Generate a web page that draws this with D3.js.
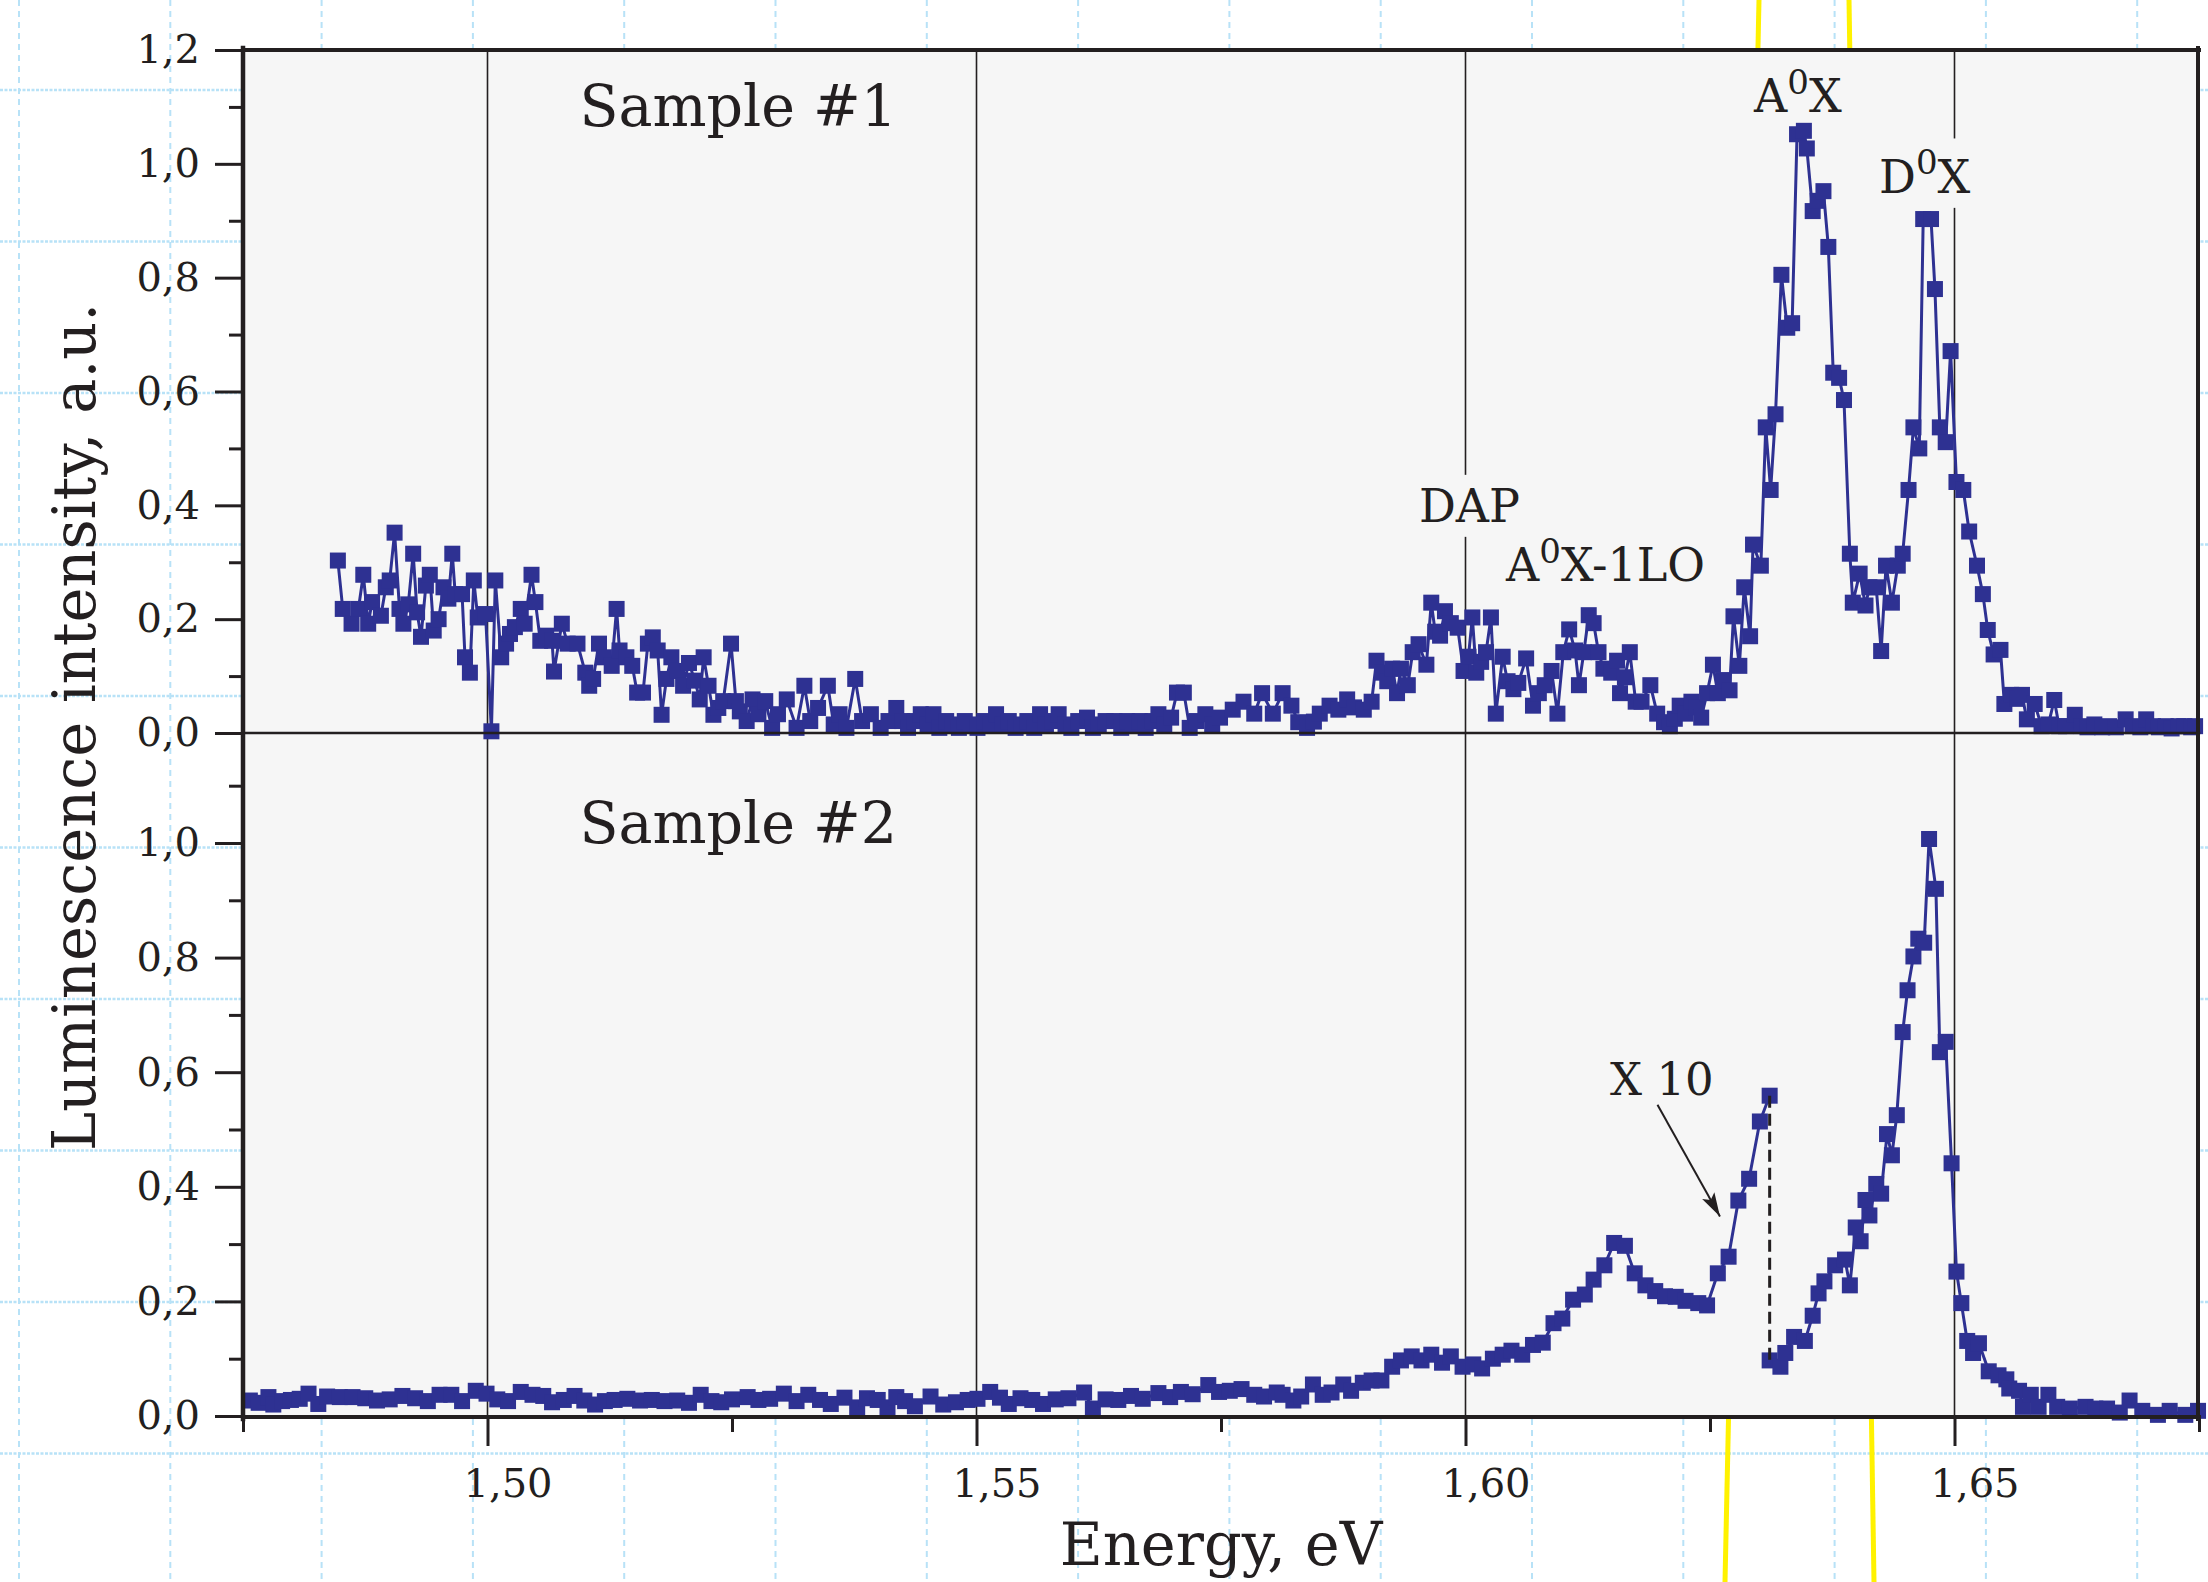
<!DOCTYPE html>
<html>
<head>
<meta charset="utf-8">
<script src="https://cdn.jsdelivr.net/npm/d3@7"></script>
<style>
  html, body { margin: 0; padding: 0; background: #fff; }
  svg { display: block; }
</style>
</head>
<body>
<div id="chart"></div>
<script>
// values: [energy (eV), intensity (a.u.)]
// sample #1
const s1Tail = [
  [1.4847,0.303],[1.4852,0.218],[1.4861,0.192],[1.4868,0.218],[1.4873,0.278],[1.4878,0.192],[1.4882,0.230],
  [1.4891,0.206],[1.4896,0.256],[1.4900,0.268],[1.4905,0.352],[1.4910,0.218],[1.4914,0.192],[1.4919,0.226],
  [1.4924,0.315],[1.4928,0.212],[1.4932,0.169],[1.4937,0.259],[1.4941,0.278],[1.4945,0.180],[1.4950,0.200],
  [1.4955,0.256],[1.4960,0.236],[1.4964,0.315],[1.4967,0.244],[1.4974,0.244],[1.4977,0.133],[1.4982,0.106],
  [1.4986,0.268],[1.4990,0.203],[1.4998,0.209],[1.5004,0.003],[1.5008,0.268],[1.5014,0.133],[1.5019,0.157],
  [1.5023,0.174],[1.5028,0.186],[1.5034,0.218],[1.5038,0.192],[1.5045,0.278],[1.5049,0.230],[1.5054,0.162],
  [1.5060,0.171],[1.5066,0.162],[1.5068,0.108],[1.5076,0.192],[1.5082,0.157],[1.5092,0.157],[1.5100,0.106],
  [1.5104,0.083],[1.5108,0.095],[1.5114,0.157],[1.5119,0.133],[1.5127,0.118],[1.5132,0.218],[1.5135,0.145],
  [1.5142,0.133],[1.5148,0.118],[1.5153,0.071],[1.5159,0.071],[1.5164,0.157],[1.5169,0.168],[1.5174,0.145],
  [1.5178,0.032],[1.5183,0.095],[1.5188,0.133],[1.5194,0.109],[1.5200,0.083],[1.5206,0.123],[1.5212,0.092],
  [1.5217,0.059],[1.5221,0.133],[1.5226,0.083],[1.5231,0.032],[1.5236,0.044],[1.5241,0.056],[1.5249,0.157],
  [1.5254,0.056],[1.5258,0.038],[1.5265,0.021],[1.5271,0.059],[1.5277,0.033],[1.5284,0.056],[1.5291,0.009],
  [1.5297,0.033],[1.5306,0.059],[1.5316,0.009],[1.5324,0.083],[1.5330,0.021],[1.5338,0.044],[1.5348,0.083],
  [1.5354,0.015],[1.5360,0.033],[1.5367,0.009],[1.5376,0.095],[1.5383,0.021],[1.5392,0.033],[1.5402,0.009]
];
const s1Flat = [
  [1.5410,0.021],[1.5418,0.044],[1.5424,0.021],[1.5430,0.009],[1.5437,0.021],[1.5443,0.033],[1.5450,0.015],
  [1.5456,0.033],[1.5462,0.009],[1.5469,0.021],[1.5475,0.015],[1.5482,0.009],[1.5488,0.021],[1.5494,0.015],
  [1.5501,0.009],[1.5508,0.021],[1.5514,0.015],[1.5520,0.033],[1.5527,0.015],[1.5533,0.021],[1.5540,0.009],
  [1.5546,0.015],[1.5552,0.021],[1.5559,0.009],[1.5565,0.033],[1.5571,0.015],[1.5578,0.021],[1.5584,0.033],
  [1.5591,0.015],[1.5597,0.009],[1.5604,0.021],[1.5613,0.027],[1.5619,0.009],[1.5625,0.015],[1.5632,0.021],
  [1.5641,0.021],[1.5648,0.009],[1.5654,0.021],[1.5660,0.015],[1.5667,0.021],[1.5673,0.009],[1.5680,0.021],
  [1.5686,0.033],[1.5692,0.015],[1.5699,0.027],[1.5705,0.071],[1.5712,0.071],[1.5718,0.009],[1.5725,0.021],
  [1.5734,0.033],[1.5741,0.015],[1.5749,0.027]
];
const s1Dap = [
  [1.5762,0.041],[1.5773,0.055],[1.5784,0.034],[1.5792,0.070],[1.5803,0.034],[1.5813,0.070],[1.5822,0.048],
  [1.5829,0.019],[1.5838,0.009],[1.5845,0.020],[1.5851,0.034],[1.5861,0.048],[1.5870,0.041],[1.5879,0.059],
  [1.5886,0.045],[1.5896,0.041],[1.5904,0.055],[1.5909,0.127],[1.5915,0.106],[1.5920,0.091],[1.5925,0.113],
  [1.5930,0.070],[1.5934,0.113],[1.5941,0.084],[1.5946,0.142],[1.5952,0.156],[1.5960,0.120],[1.5965,0.229],
  [1.5969,0.178],[1.5974,0.171],[1.5979,0.214],[1.5985,0.193],[1.5992,0.185],[1.5998,0.109],[1.6003,0.134],
  [1.6007,0.203],[1.6011,0.106],[1.6016,0.125],[1.6021,0.142],[1.6026,0.203],[1.6031,0.034],[1.6038,0.134],
  [1.6043,0.091],[1.6049,0.077],[1.6054,0.088],[1.6062,0.131],[1.6069,0.048],[1.6075,0.070],[1.6081,0.084],
  [1.6088,0.109],[1.6094,0.034],[1.6100,0.142],[1.6106,0.182],[1.6112,0.145],[1.6116,0.084],[1.6121,0.142],
  [1.6126,0.207],[1.6131,0.193],[1.6136,0.142],[1.6141,0.113],[1.6149,0.106],[1.6155,0.127],[1.6158,0.070],
  [1.6163,0.098],[1.6168,0.142],[1.6174,0.055],[1.6180,0.055],[1.6189,0.084],[1.6196,0.034],[1.6203,0.019],
  [1.6209,0.012],[1.6214,0.025],[1.6219,0.048],[1.6225,0.034],[1.6231,0.055],[1.6236,0.045],[1.6241,0.027],
  [1.6247,0.070]
];
const s1Excitons = [
  [1.6253,0.120],[1.6258,0.070],[1.6264,0.093],[1.6270,0.075],[1.6274,0.205],[1.6280,0.118],[1.6285,0.256],
  [1.6291,0.170],[1.6294,0.331],[1.6302,0.294],[1.6307,0.537],[1.6312,0.427],[1.6317,0.560],[1.6323,0.805],
  [1.6329,0.712],[1.6334,0.720],[1.6339,1.052],[1.6346,1.058],[1.6349,1.027],[1.6355,0.917],[1.6360,0.935],
  [1.6366,0.952],[1.6371,0.854],[1.6376,0.633],[1.6382,0.624],[1.6387,0.585],[1.6393,0.315],[1.6396,0.229],
  [1.6403,0.280],[1.6409,0.224],[1.6413,0.256],[1.6420,0.256],[1.6425,0.144],[1.6430,0.294],[1.6436,0.229],
  [1.6442,0.294],[1.6447,0.315],[1.6453,0.427],[1.6458,0.537],[1.6464,0.500],[1.6468,0.903],[1.6476,0.903],
  [1.6480,0.780],[1.6485,0.537],[1.6491,0.511],[1.6496,0.671],[1.6502,0.441],[1.6509,0.427],[1.6515,0.354],
  [1.6523,0.294],[1.6529,0.244],[1.6534,0.181],[1.6540,0.138],[1.6547,0.146],[1.6551,0.051],[1.6558,0.067],
  [1.6564,0.060],[1.6569,0.067],[1.6574,0.024],[1.6582,0.051],[1.6589,0.012],[1.6596,0.015],[1.6602,0.058],
  [1.6607,0.012],[1.6614,0.012],[1.6623,0.032],[1.6630,0.012],[1.6636,0.010],[1.6643,0.015],[1.6651,0.010],
  [1.6658,0.012],[1.6665,0.010],[1.6675,0.024],[1.6682,0.012],[1.6690,0.010],[1.6696,0.024],[1.6703,0.012],
  [1.6709,0.010],[1.6716,0.012],[1.6722,0.008],[1.6729,0.012],[1.6735,0.012],[1.6742,0.010],[1.6746,0.012]
];

// sample #2 (the part up to the dashed line is shown x10)
const s2Base = [
  [1.4757,0.027],[1.4766,0.023],[1.4776,0.033],[1.4781,0.020],[1.4790,0.026],[1.4799,0.028],[1.4808,0.030],
  [1.4817,0.039],[1.4827,0.021],[1.4836,0.034],[1.4849,0.033],[1.4862,0.033],[1.4875,0.031],[1.4887,0.027],
  [1.4900,0.029],[1.4913,0.035],[1.4926,0.031],[1.4939,0.026],[1.4951,0.037],[1.4963,0.037],[1.4974,0.026],
  [1.4988,0.044],[1.4999,0.039],[1.5010,0.029],[1.5021,0.026],[1.5034,0.042],[1.5046,0.037],[1.5057,0.035],
  [1.5066,0.024],[1.5078,0.028],[1.5089,0.035],[1.5099,0.027],[1.5110,0.020],[1.5120,0.026],[1.5130,0.028],
  [1.5143,0.030],[1.5156,0.027],[1.5168,0.028],[1.5181,0.026],[1.5194,0.027],[1.5206,0.023],[1.5218,0.037],
  [1.5229,0.026],[1.5239,0.024],[1.5250,0.029],[1.5266,0.033],[1.5277,0.028],[1.5289,0.030],[1.5303,0.039],
  [1.5316,0.026],[1.5328,0.037],[1.5340,0.028],[1.5351,0.021],[1.5365,0.032],[1.5378,0.015],[1.5388,0.031],
  [1.5399,0.028],[1.5409,0.015],[1.5418,0.033],[1.5427,0.026],[1.5437,0.017],[1.5453,0.034],[1.5466,0.020],
  [1.5479,0.024],[1.5491,0.028],[1.5501,0.030],[1.5514,0.042],[1.5524,0.032],[1.5533,0.021],[1.5545,0.031],
  [1.5557,0.028],[1.5568,0.021],[1.5581,0.029],[1.5594,0.031],[1.5610,0.041],[1.5619,0.013],[1.5632,0.029],
  [1.5645,0.028],[1.5658,0.035],[1.5670,0.030],[1.5686,0.040],[1.5698,0.033],[1.5709,0.042],[1.5721,0.038],
  [1.5737,0.054],[1.5748,0.042]
];
const s2Dap = [
  [1.5759,0.044],[1.5771,0.047],[1.5784,0.037],[1.5794,0.034],[1.5807,0.041],[1.5813,0.037],[1.5824,0.027],
  [1.5832,0.034],[1.5844,0.055],[1.5854,0.037],[1.5863,0.041],[1.5875,0.055],[1.5883,0.044],[1.5895,0.058],
  [1.5904,0.062],[1.5914,0.062],[1.5925,0.086],[1.5934,0.097],[1.5945,0.104],[1.5955,0.097],[1.5965,0.107],
  [1.5976,0.093],[1.5985,0.104],[1.5997,0.086],[1.6008,0.090],[1.6017,0.083],[1.6028,0.100],[1.6038,0.107],
  [1.6047,0.114],[1.6058,0.107],[1.6069,0.124],[1.6079,0.128],[1.6090,0.162],[1.6099,0.170],[1.6110,0.203],
  [1.6122,0.212],[1.6131,0.238],[1.6142,0.263],[1.6152,0.302],[1.6163,0.297],[1.6173,0.249],[1.6184,0.228],
  [1.6194,0.218],[1.6204,0.209],[1.6215,0.208],[1.6225,0.201],[1.6238,0.197],[1.6247,0.193],[1.6258,0.249],
  [1.6269,0.278],[1.6279,0.376],[1.6290,0.414],[1.6301,0.514],[1.6311,0.559]
];
const s2Excitons = [
  [1.6311,0.097],[1.6322,0.086],[1.6327,0.110],[1.6336,0.138],[1.6347,0.131],[1.6355,0.175],[1.6361,0.214],
  [1.6367,0.235],[1.6378,0.263],[1.6388,0.273],[1.6393,0.228],[1.6399,0.329],[1.6404,0.305],[1.6409,0.377],
  [1.6413,0.350],[1.6420,0.405],[1.6425,0.388],[1.6431,0.492],[1.6436,0.455],[1.6441,0.525],[1.6447,0.670],
  [1.6452,0.743],[1.6458,0.802],[1.6463,0.833],[1.6469,0.826],[1.6474,1.007],[1.6481,0.920],[1.6485,0.635],
  [1.6491,0.653],[1.6497,0.441],[1.6502,0.252],[1.6507,0.197],[1.6513,0.131],[1.6519,0.110],[1.6525,0.127],
  [1.6535,0.078],[1.6545,0.071],[1.6553,0.064],[1.6556,0.048],[1.6566,0.044],[1.6570,0.016],[1.6578,0.037],
  [1.6586,0.016],[1.6596,0.037],[1.6605,0.016],[1.6618,0.013],[1.6634,0.016],[1.6644,0.013],[1.6656,0.013],
  [1.6669,0.006],[1.6679,0.027],[1.6692,0.009],[1.6708,0.002],[1.6720,0.009],[1.6736,0.002],[1.6749,0.009]
];

const xMajorTicks = [1.50, 1.55, 1.60, 1.65];
const xMinorTicks = [1.475, 1.525, 1.575, 1.625, 1.675];
const xTickLabels = ['1,50', '1,55', '1,60', '1,65'];
const yTopTicks = [0, 0.2, 0.4, 0.6, 0.8, 1.0, 1.2];
const yTopLabels = ['0,0', '0,2', '0,4', '0,6', '0,8', '1,0', '1,2'];
const yBotTicks = [0, 0.2, 0.4, 0.6, 0.8, 1.0];
const yBotLabels = ['0,0', '0,2', '0,4', '0,6', '0,8', '1,0'];
const yMinorTicks = [0.1, 0.3, 0.5, 0.7, 0.9, 1.1];

const W = 2208, H = 1582;
const pLeft = 243, pRight = 2199, pTop = 50, pMid = 733, pBottom = 1417;
const ink = '#231f20', blue = '#2e3192', panelBg = '#f6f6f6';
const serif = '"DejaVu Serif", serif';

const x = d3.scaleLinear().domain([1.475, 1.675]).range([pLeft, pRight]);
const yTop = d3.scaleLinear().domain([0, 1.2]).range([pMid, pTop]);
const yBot = d3.scaleLinear().domain([0, 1.0]).range([1416, 843]);

const svg = d3.select('#chart').append('svg')
  .attr('width', W).attr('height', H)
  .style('background', '#fff');

// graph paper + yellow pen lines of the scanned page, behind everything
const deco = svg.append('g');
deco.selectAll('line.gv').data(d3.range(19, W, 151.3)).join('line')
  .attr('class', 'gv')
  .attr('x1', d => d).attr('x2', d => d).attr('y1', 0).attr('y2', H)
  .attr('stroke', '#b8e2f7').attr('stroke-width', 2).attr('stroke-dasharray', '6 5');
deco.selectAll('line.gh').data(d3.range(90, H, 151.5)).join('line')
  .attr('class', 'gh')
  .attr('x1', 0).attr('x2', W).attr('y1', d => d).attr('y2', d => d)
  .attr('stroke', '#b8e2f7').attr('stroke-width', 2.5).attr('stroke-dasharray', '3 1.5');
deco.append('line').attr('x1', 1759).attr('y1', 0).attr('x2', 1725).attr('y2', H)
  .attr('stroke', '#fff200').attr('stroke-width', 5);
deco.append('line').attr('x1', 1849).attr('y1', 0).attr('x2', 1874).attr('y2', H)
  .attr('stroke', '#fff200').attr('stroke-width', 5);

// plot area
svg.append('rect')
  .attr('x', pLeft).attr('y', pTop)
  .attr('width', pRight - pLeft).attr('height', pBottom - pTop)
  .attr('fill', panelBg);

svg.append('g').selectAll('line').data(xMajorTicks).join('line')
  .attr('x1', d => x(d)).attr('x2', d => x(d))
  .attr('y1', pTop).attr('y2', pBottom)
  .attr('stroke', ink).attr('stroke-width', 1.6);

const labelBg = svg.append('g');
const dataLayer = svg.append('g');
const axisLayer = svg.append('g');
const textLayer = svg.append('g');

// series
const lineTop = d3.line().x(d => x(d[0])).y(d => yTop(d[1]));
const lineBot = d3.line().x(d => x(d[0])).y(d => yBot(d[1]));
const ms = 16;

function drawSeries(data, line, y) {
  dataLayer.append('path')
    .datum(data)
    .attr('d', line)
    .attr('fill', 'none')
    .attr('stroke', blue)
    .attr('stroke-width', 3)
    .attr('stroke-linejoin', 'round');
  dataLayer.append('g').selectAll('rect').data(data).join('rect')
    .attr('x', d => x(d[0]) - ms / 2)
    .attr('y', d => y(d[1]) - ms / 2)
    .attr('width', ms).attr('height', ms)
    .attr('fill', blue);
}

const sample1 = s1Tail.concat(s1Flat, s1Dap, s1Excitons);
drawSeries(sample1, lineTop, yTop);
drawSeries(s2Base.concat(s2Dap), lineBot, yBot);
drawSeries(s2Excitons, lineBot, yBot);

// dashed jump where the x10 part ends
const jumpA = s2Dap[s2Dap.length - 1], jumpB = s2Excitons[0];
dataLayer.append('line')
  .attr('x1', x(jumpA[0])).attr('y1', yBot(jumpA[1]))
  .attr('x2', x(jumpB[0])).attr('y2', yBot(jumpB[1]))
  .attr('stroke', ink).attr('stroke-width', 3).attr('stroke-dasharray', '12 6');

// axes
function styleAxis(g) {
  g.select('.domain').remove();
  g.attr('color', ink).attr('font-family', serif).attr('font-size', 40);
  g.selectAll('.tick line').attr('stroke-width', 3);
}

axisLayer.append('g').attr('transform', `translate(${pLeft},0)`)
  .call(d3.axisLeft(yTop).tickValues(yTopTicks).tickFormat((d, i) => yTopLabels[i]).tickSize(28).tickPadding(15))
  .call(styleAxis);
axisLayer.append('g').attr('transform', `translate(${pLeft},0)`)
  .call(d3.axisLeft(yTop).tickValues(yMinorTicks).tickFormat('').tickSize(14))
  .call(styleAxis);
axisLayer.append('g').attr('transform', `translate(${pLeft},0)`)
  .call(d3.axisLeft(yBot).tickValues(yBotTicks).tickFormat((d, i) => yBotLabels[i]).tickSize(28).tickPadding(15))
  .call(styleAxis);
axisLayer.append('g').attr('transform', `translate(${pLeft},0)`)
  .call(d3.axisLeft(yBot).tickValues(yMinorTicks).tickFormat('').tickSize(14))
  .call(styleAxis);

axisLayer.append('g').attr('transform', `translate(0,${pBottom})`)
  .call(d3.axisBottom(x).tickValues(xMajorTicks).tickFormat((d, i) => xTickLabels[i]).tickSize(29).tickPadding(23))
  .call(styleAxis)
  .call(g => g.selectAll('text').attr('dx', 20));
axisLayer.append('g').attr('transform', `translate(0,${pBottom})`)
  .call(d3.axisBottom(x).tickValues(xMinorTicks).tickFormat('').tickSize(15))
  .call(styleAxis);

// frame
const frame = [
  [pLeft, pTop, pRight, pTop, 4],
  [pLeft, pMid, pRight, pMid, 2.5],
  [pLeft, pBottom, pRight, pBottom, 4],
  [pLeft, pTop - 2, pLeft, pBottom + 2, 4.5],
  [pRight - 1, pTop - 2, pRight - 1, pBottom + 2, 4]
];
axisLayer.append('g').selectAll('line').data(frame).join('line')
  .attr('x1', d => d[0]).attr('y1', d => d[1])
  .attr('x2', d => d[2]).attr('y2', d => d[3])
  .attr('stroke', ink).attr('stroke-width', d => d[4])
  .attr('stroke-linecap', 'square');

// axis titles
textLayer.append('text')
  .attr('x', 1221).attr('y', 1565)
  .attr('text-anchor', 'middle')
  .attr('font-family', serif).attr('font-size', 59).attr('fill', ink)
  .text('Energy, eV');
textLayer.append('text')
  .attr('transform', 'translate(95,727) rotate(-90)')
  .attr('text-anchor', 'middle')
  .attr('font-family', serif).attr('font-size', 59).attr('fill', ink)
  .text('Luminescence intensity, a.u.');

// in-plot labels; parts with sup:true are superscripts
function addLabel(px, py, parts, size) {
  const t = textLayer.append('text')
    .attr('x', px).attr('y', py)
    .attr('font-family', serif).attr('font-size', size).attr('fill', ink);
  const shift = size * 0.4;
  let raised = false;
  parts.forEach(p => {
    const s = t.append('tspan').text(p.t);
    if (p.sup) {
      s.attr('font-size', size * 0.74).attr('dy', -shift);
      raised = true;
    } else {
      s.attr('font-size', size);
      if (raised) { s.attr('dy', shift); raised = false; }
    }
  });
  const b = t.node().getBBox();
  labelBg.append('rect')
    .attr('x', b.x - 2).attr('y', b.y - 4)
    .attr('width', b.width + 4).attr('height', b.height + 8)
    .attr('fill', panelBg);
  return t;
}

addLabel(x(1.5094), yTop(1.066), [{ t: 'Sample #1' }], 57);
addLabel(x(1.5094), yBot(1.0), [{ t: 'Sample #2' }], 57);
addLabel(x(1.59524), yTop(0.371), [{ t: 'DAP' }], 46);
addLabel(x(1.60414), yTop(0.267), [{ t: 'A' }, { t: '0', sup: true }, { t: 'X-1LO' }], 46);
addLabel(x(1.6295), yTop(1.091), [{ t: 'A' }, { t: '0', sup: true }, { t: 'X' }], 46);
addLabel(x(1.64228), yTop(0.949), [{ t: 'D' }, { t: '0', sup: true }, { t: 'X' }], 46);
addLabel(x(1.61478), yBot(0.56), [{ t: 'X 10' }], 45);

// arrow pointing at the x10 part
svg.append('defs').append('marker')
  .attr('id', 'head')
  .attr('viewBox', '0 0 24 14')
  .attr('refX', 24).attr('refY', 7)
  .attr('markerWidth', 24).attr('markerHeight', 14)
  .attr('markerUnits', 'userSpaceOnUse')
  .attr('orient', 'auto')
  .append('path').attr('d', 'M0,0 L24,7 L0,14 L5,7 z').attr('fill', ink);
textLayer.append('line')
  .attr('x1', x(1.61963)).attr('y1', yBot(0.543))
  .attr('x2', x(1.62602)).attr('y2', yBot(0.348))
  .attr('stroke', ink).attr('stroke-width', 2)
  .attr('marker-end', 'url(#head)');
</script>
</body>
</html>
